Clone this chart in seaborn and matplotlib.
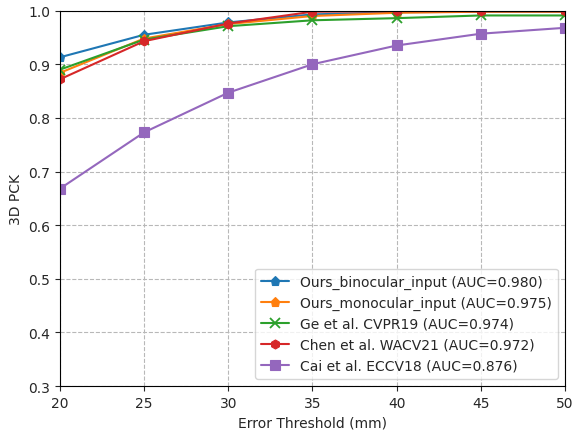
import numpy as np
import pandas as pd
import matplotlib
matplotlib.use("Agg")
import matplotlib.pyplot as plt
import seaborn as sns

thresholds = [20, 25, 30, 35, 40, 45, 50]
ours_bino = [0.913, 0.955, 0.978, 0.993, 0.997, 0.998, 0.998]
ours_mono = [0.884, 0.948, 0.975, 0.990, 0.996, 0.998, 0.998]
ge_cvpr19 = [0.890, 0.946, 0.971, 0.982, 0.986, 0.991, 0.991]
chen_wacv21 = [0.872, 0.943, 0.976, 0.998, 0.999, 0.999, 0.999]
cai_eccv18 = [0.668, 0.773, 0.847, 0.900, 0.935, 0.957, 0.968]

labels = [
    "Ours_binocular_input (AUC=0.980)",
    "Ours_monocular_input (AUC=0.975)",
    "Ge et al. CVPR19 (AUC=0.974)",
    "Chen et al. WACV21 (AUC=0.972)",
    "Cai et al. ECCV18 (AUC=0.876)",
]
series = [ours_bino, ours_mono, ge_cvpr19, chen_wacv21, cai_eccv18]
markers = ["p", "p", "x", "h", "s"]
colors = ["#1f77b4", "#ff7f0e", "#2ca02c", "#d62728", "#9467bd"]

df = pd.concat(
    [pd.DataFrame({"threshold": thresholds, "pck": vals, "method": lab})
     for lab, vals in zip(labels, series)],
    ignore_index=True,
)

sns.set_style("white")
fig, ax = plt.subplots(figsize=(5.76, 4.31), dpi=100)

for lab, mk, col in zip(labels, markers, colors):
    sub = df[df["method"] == lab]
    sns.lineplot(data=sub, x="threshold", y="pck", marker=mk, color=col,
                 linewidth=1.5, markersize=6.5, markeredgecolor=col,
                 markeredgewidth=1.3 if mk == "x" else 0.8,
                 label=lab, ax=ax)

ax.set_xlim(20, 50)
ax.set_ylim(0.3, 1.0)
ax.set_xticks(thresholds)
ax.set_yticks(np.arange(0.3, 1.01, 0.1))
ax.set_xlabel("Error Threshold (mm)", fontsize=10)
ax.set_ylabel("3D PCK", fontsize=10)
ax.tick_params(labelsize=10, direction="out", length=3.5, left=True, bottom=True)
ax.grid(True, linestyle="--", color="#b8b8b8", linewidth=0.8)
for s in ax.spines.values():
    s.set_color("black")
    s.set_linewidth(0.8)
ax.legend(loc="lower right", fontsize=10, framealpha=0.8, borderpad=0.45,
          labelspacing=0.5)

fig.subplots_adjust(left=0.104, right=0.981, top=0.973, bottom=0.102)
fig.savefig("out.png", dpi=100)
